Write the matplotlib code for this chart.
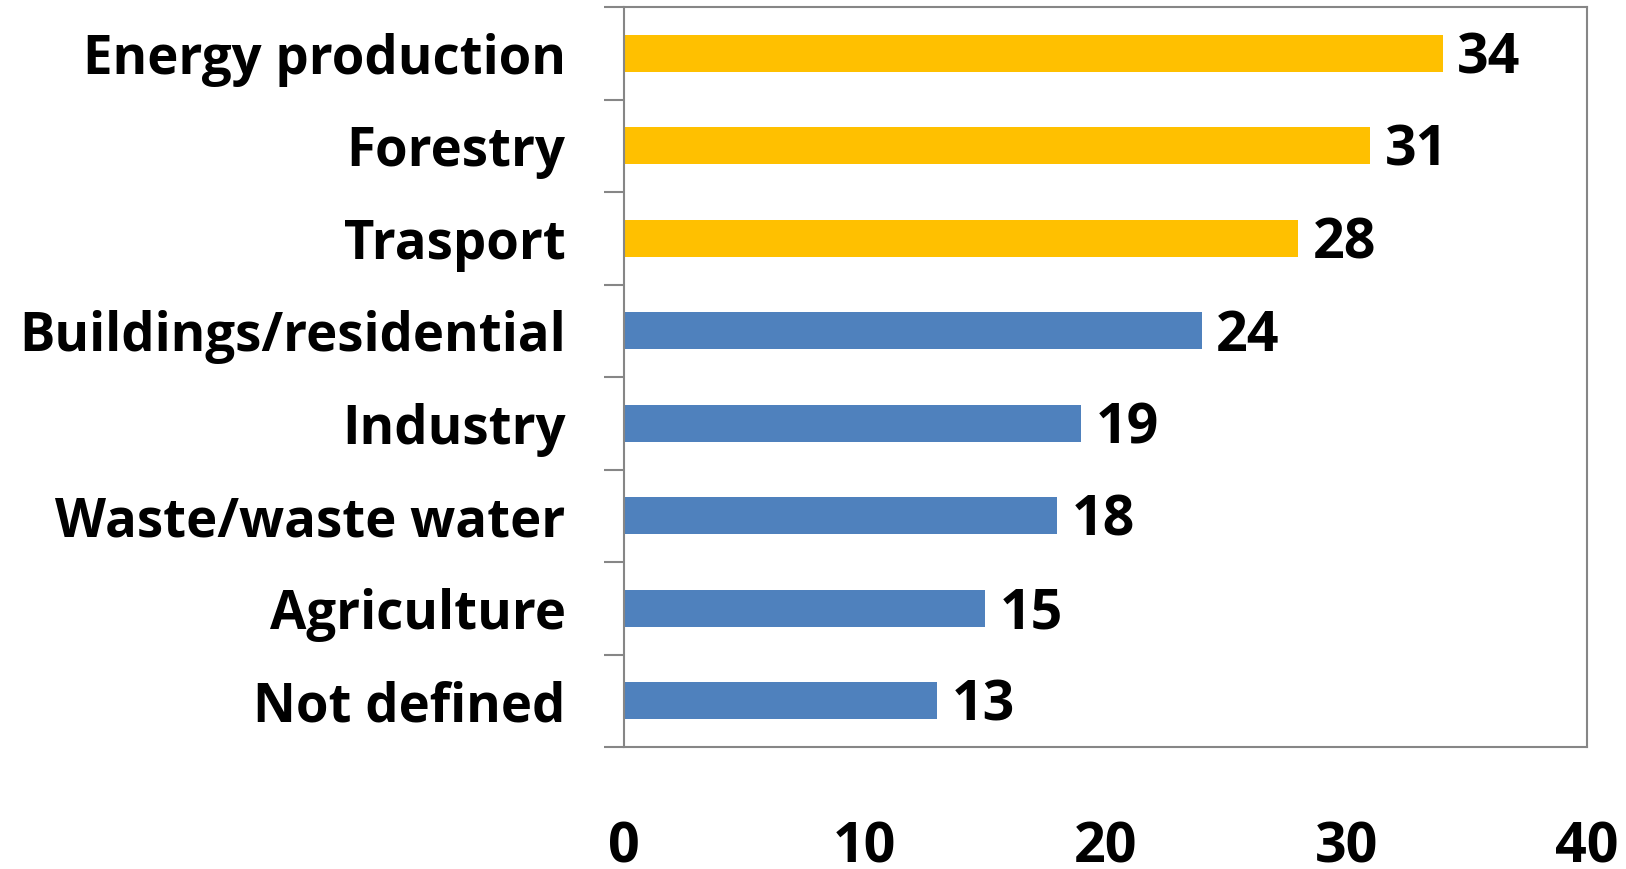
import numpy as np
import matplotlib.pyplot as plt

categories = ['Energy production', 'Forestry', 'Trasport', 'Buildings/residential',
              'Industry', 'Waste/waste water', 'Agriculture', 'Not defined']
values = [34, 31, 28, 24, 19, 18, 15, 13]
highlight = [True, True, True, False, False, False, False, False]
xticks = [0, 10, 20, 30, 40]

gold = '#FFC000'
blue = '#4F81BD'
gray = '#868686'

plt.rcParams['font.family'] = ['Open Sans', 'DejaVu Sans']
plt.rcParams['font.weight'] = 'bold'
fs = 38
fs_num = 40

fig = plt.figure(figsize=(16.26, 8.69), dpi=100)
ax = fig.add_axes([624/1626, 1 - 747/869, (1587-624)/1626, (747-7)/869])

y = np.arange(len(categories))
colors = [gold if h else blue for h in highlight]
ax.barh(y, values, height=0.4, color=colors, zorder=2)

for yi, v in zip(y, values):
    ax.text(v + 0.6, yi + 0.06, str(v), va='center', ha='left',
            fontsize=fs_num, fontweight='bold', color='black')

ax.set_xlim(0, 40)
ax.set_ylim(len(categories) - 0.5, -0.5)
ax.set_xticks(xticks)
ax.set_xticklabels([str(t) for t in xticks], fontsize=fs_num, fontweight='bold')
ax.tick_params(axis='x', length=0, pad=53)

# category boundary ticks (major) and labels at centers (minor)
ax.set_yticks(np.arange(-0.5, len(categories), 1.0))
ax.set_yticklabels([])
ax.set_yticks(y, minor=True)
ax.set_yticklabels(categories, minor=True, fontsize=fs, fontweight='bold')
ax.tick_params(axis='y', which='major', length=14.4, width=1.5, color=gray)
ax.tick_params(axis='y', which='minor', length=0, pad=42)

for s in ax.spines.values():
    s.set_color(gray)
    s.set_linewidth(1.5)

fig.savefig('out.png', dpi=100)
